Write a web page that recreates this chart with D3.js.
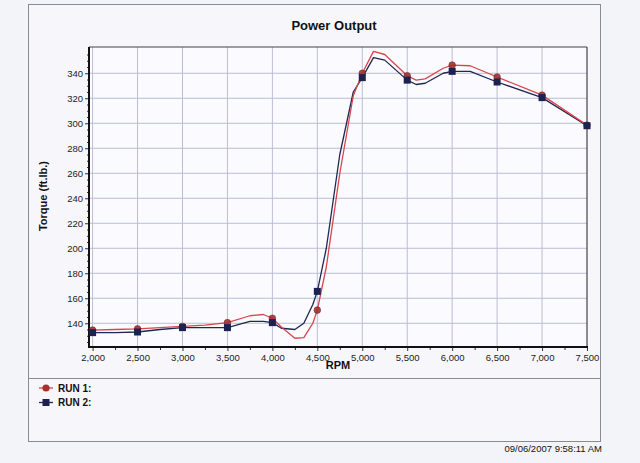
<!DOCTYPE html>
<html><head><meta charset="utf-8">
<script src="https://cdn.jsdelivr.net/npm/d3@7"></script>
<style>
html,body{margin:0;padding:0;background:#f3f4f9;}
svg{display:block;font-family:"Liberation Sans",Arial,sans-serif;}
</style></head>
<body>
<svg id="chart" width="640" height="463"></svg>
<script>
// ---- data ----
const title = "Power Output";
const xLabel = "RPM";
const yLabel = "Torque (ft.lb.)";
const seriesNames = ["RUN 1:", "RUN 2:"];
const timestamp = "09/06/2007 9:58:11 AM";
const rpm = [2000,2250,2500,2750,3000,3250,3500,3750,3900,4000,4100,4250,4350,4450,4500,4600,4750,4900,5000,5125,5250,5500,5600,5700,5900,6000,6200,6500,7000,7500];
const run1 = [134.5,135,135.5,136.5,137.5,138.5,140.5,146,147,144,137,128,128.5,140,150.5,185,260,322,340,357.5,355,338,334.5,335.5,344,346.5,346,337,322.5,298.5];
const run2 = [132.5,132.5,133,135,136.5,136.5,136.5,141.5,141.5,140.5,136,135,140,155,165.5,200,275,325,336.5,352.5,350.5,334.5,331,332,340,341.5,341.5,333,320.5,298];
const xTicks = [2000,2500,3000,3500,4000,4500,5000,5500,6000,6500,7000,7500];
const yTicks = [140,160,180,200,220,240,260,280,300,320,340];

// ---- layout ----
const svg = d3.select("#chart");
const L = 89, R = 587, T = 47, B = 347;
const x = d3.scaleLinear().domain([1960, 7500]).range([L, R]);
const y = d3.scaleLinear().domain([121, 361]).range([B, T]);

// page frame
svg.append("rect").attr("x",0).attr("y",0).attr("width",640).attr("height",463).attr("fill","#f3f4f9");
svg.append("rect").attr("x",28.5).attr("y",4.5).attr("width",572).attr("height",437)
  .attr("fill","#f7f7fb").attr("stroke","#8a8a94").attr("stroke-width",1);
svg.append("line").attr("x1",28.5).attr("x2",600.5).attr("y1",378.5).attr("y2",378.5)
  .attr("stroke","#8a8a94").attr("stroke-width",1);

// title
svg.append("text").attr("x",334).attr("y",30).attr("text-anchor","middle")
  .attr("font-size",13).attr("font-weight","bold").attr("fill","#111").text(title);

// plot background
svg.append("rect").attr("x",L).attr("y",T).attr("width",R-L).attr("height",B-T).attr("fill","#fbfbff");

// grid
const g = svg.append("g");
g.selectAll(".vg").data(xTicks.filter(d=>d>2000 && d<7500)).join("line")
  .attr("x1",d=>x(d)).attr("x2",d=>x(d)).attr("y1",T).attr("y2",B)
  .attr("stroke","#bcbcd6").attr("stroke-width",1);
g.selectAll(".vg0").data([2000]).join("line")
  .attr("x1",d=>x(d)).attr("x2",d=>x(d)).attr("y1",T).attr("y2",B)
  .attr("stroke","#bcbcd6").attr("stroke-width",1);
g.selectAll(".hg").data(yTicks).join("line")
  .attr("x1",L).attr("x2",R).attr("y1",d=>y(d)).attr("y2",d=>y(d))
  .attr("stroke","#bcbcd6").attr("stroke-width",1);

// axes
const xAxis = d3.axisBottom(x).tickValues(xTicks).tickFormat(d3.format(",")).tickSize(4).tickPadding(3);
const xMinor = d3.axisBottom(x).tickValues(d3.range(2250,7500,500)).tickFormat("").tickSize(3);
const yAxis = d3.axisLeft(y).tickValues(yTicks).tickSize(4).tickPadding(2);
const yMinor = d3.axisLeft(y).tickValues(d3.range(125,361,5).filter(v=>v%20!==0)).tickFormat("").tickSize(2);

const gx = svg.append("g").attr("transform",`translate(0,${B})`).call(xAxis);
svg.append("g").attr("transform",`translate(0,${B})`).call(xMinor).select(".domain").remove();
const gy = svg.append("g").attr("transform",`translate(${L},0)`).call(yAxis);
svg.append("g").attr("transform",`translate(${L},0)`).call(yMinor).select(".domain").remove();
[gx,gy].forEach(a=>{
  a.select(".domain").remove();
  a.selectAll("text").attr("font-size",9.5).attr("fill","#222").attr("font-family","Liberation Sans, Arial, sans-serif");
  a.selectAll("line").attr("stroke","#333");
});
svg.selectAll(".tick line").attr("stroke","#333");

// plot frame
svg.append("line").attr("x1",L).attr("x2",R).attr("y1",T).attr("y2",T).attr("stroke","#444").attr("stroke-width",1.2);
svg.append("line").attr("x1",R).attr("x2",R).attr("y1",T).attr("y2",B).attr("stroke","#444").attr("stroke-width",1.2);
svg.append("line").attr("x1",L).attr("x2",L).attr("y1",T).attr("y2",B+1).attr("stroke","#111").attr("stroke-width",2);
svg.append("line").attr("x1",L-1).attr("x2",R+1).attr("y1",B).attr("y2",B).attr("stroke","#111").attr("stroke-width",2);

// axis titles
svg.append("text").attr("x",338).attr("y",369).attr("text-anchor","middle")
  .attr("font-size",11).attr("font-weight","bold").attr("fill","#111").text(xLabel);
svg.append("text").attr("transform","translate(47,196) rotate(-90)").attr("text-anchor","middle")
  .attr("font-size",11).attr("font-weight","bold").attr("fill","#111").text(yLabel);

// series
const series = [
  {name: seriesNames[0], vals: run1, line:"#d8454a", fill:"#a8302c", shape:"circle"},
  {name: seriesNames[1], vals: run2, line:"#1e2850", fill:"#1b2150", shape:"square"}
];
const lineGen = d3.line().x(d=>x(d[0])).y(d=>y(d[1]));
series.slice().reverse().forEach(s=>{
  const pts = rpm.map((r,i)=>[r, s.vals[i]]);
  svg.append("path").attr("d", lineGen(pts)).attr("fill","none")
    .attr("stroke", s.line).attr("stroke-width",1.3).attr("stroke-linejoin","round");
});
series.forEach(s=>{
  const pts = rpm.map((r,i)=>[r, s.vals[i]]).filter(p=>p[0]%500===0);
  if (s.shape==="circle") {
    svg.append("g").selectAll("circle").data(pts).join("circle")
      .attr("cx",d=>x(d[0])).attr("cy",d=>y(d[1])).attr("r",3.3)
      .attr("fill",s.fill).attr("stroke","#5a2020").attr("stroke-width",0.6).attr("opacity",0.9);
  } else {
    svg.append("g").selectAll("rect").data(pts).join("rect")
      .attr("x",d=>x(d[0])-3.5).attr("y",d=>y(d[1])-3.5).attr("width",7).attr("height",7)
      .attr("fill",s.fill);
  }
});

// legend
const lg = svg.append("g");
series.forEach((s,i)=>{
  const yy = 388 + i*14.5;
  lg.append("line").attr("x1",39).attr("x2",53).attr("y1",yy).attr("y2",yy).attr("stroke",s.line).attr("stroke-width",1.3);
  if (s.shape==="circle") lg.append("circle").attr("cx",46).attr("cy",yy).attr("r",3.6).attr("fill",s.fill);
  else lg.append("rect").attr("x",42.5).attr("y",yy-3.5).attr("width",7).attr("height",7).attr("fill",s.fill);
  lg.append("text").attr("x",58).attr("y",yy+3.6).attr("font-size",10).attr("font-weight","bold")
    .attr("fill","#111").text(s.name);
});

// timestamp
svg.append("text").attr("x",602).attr("y",452).attr("text-anchor","end")
  .attr("font-size",9.5).attr("fill","#111").text(timestamp);
</script>
</body></html>
